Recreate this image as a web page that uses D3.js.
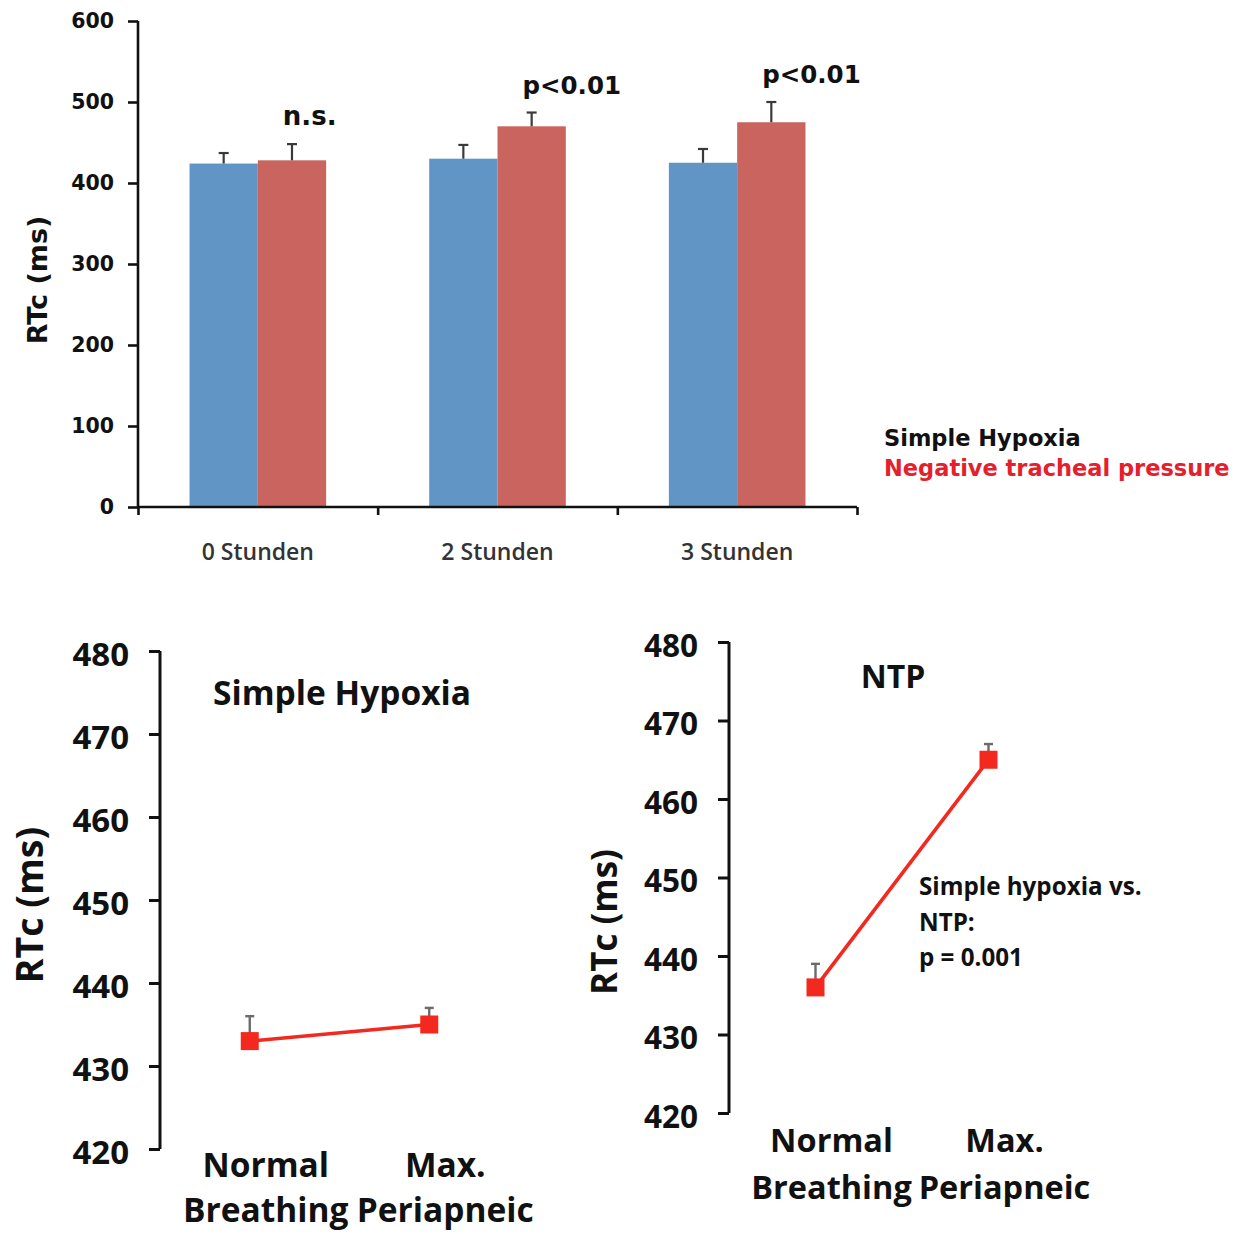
<!DOCTYPE html>
<html>
<head>
<meta charset="utf-8">
<script src="https://cdn.jsdelivr.net/npm/d3@7"></script>
<style>
  html, body { margin: 0; padding: 0; background: #fff; }
  svg { display: block; }
</style>
</head>
<body>
<svg id="fig" width="1243" height="1234"></svg>
<script>
// ---- RTc over time: simple hypoxia vs negative tracheal pressure ----
const timepoints = ["0 Stunden", "2 Stunden", "3 Stunden"];
const seriesNames = ["Simple Hypoxia", "Negative tracheal pressure"];
const hypoxiaMean = [424, 430, 425];
const hypoxiaErr = [13, 17, 17];
const ntpMean = [428, 470, 475];
const ntpErr = [20, 17, 25];
const significance = ["n.s.", "p<0.01", "p<0.01"];
const barTicks = [0, 100, 200, 300, 400, 500, 600];

// ---- RTc during normal breathing vs maximal periapneic phase ----
const phases = [["Normal", "Breathing"], ["Max.", "Periapneic"]];
const phaseKeys = ["Normal Breathing", "Max. Periapneic"];
const simpleHypoxiaMean = [433, 435];
const simpleHypoxiaErr = [3, 2];
const ntpPhaseMean = [436, 465];
const ntpPhaseErr = [3, 2];
const lineTicks = [420, 430, 440, 450, 460, 470, 480];
const comparisonNote = ["Simple hypoxia vs.", "NTP:", "p = 0.001"];

const BLUE = "#6195c6", RED_BAR = "#c9645e", RED = "#f3281e", LEGEND_RED = "#e5202d";
const svg = d3.select("#fig");

/* ===================== grouped bar chart ===================== */
{
  const left = 138, right = 857, top = 21, bottom = 507;
  const x0 = d3.scaleBand().domain(timepoints).range([left, right])
    .paddingInner(0.43).paddingOuter(0.215);
  const x1 = d3.scaleBand().domain(seriesNames).range([0, x0.bandwidth()]);
  const y = d3.scaleLinear().domain([0, 600]).range([bottom, top]);

  const rows = timepoints.map((t, i) => ({
    t, sig: significance[i],
    vals: [
      { s: seriesNames[0], m: hypoxiaMean[i], e: hypoxiaErr[i], c: BLUE },
      { s: seriesNames[1], m: ntpMean[i], e: ntpErr[i], c: RED_BAR }
    ]
  }));

  const g = svg.append("g");
  const grp = g.selectAll("g.grp").data(rows).join("g")
    .attr("transform", d => `translate(${x0(d.t)},0)`);

  grp.selectAll("rect").data(d => d.vals).join("rect")
    .attr("x", d => x1(d.s))
    .attr("y", d => y(d.m))
    .attr("width", x1.bandwidth())
    .attr("height", d => y(0) - y(d.m))
    .attr("fill", d => d.c);

  // error bars (upper half only)
  const eb = grp.selectAll("g.eb").data(d => d.vals).join("g")
    .attr("stroke", "#3a3a3a").attr("stroke-width", 2.2);
  eb.append("line")
    .attr("x1", d => x1(d.s) + x1.bandwidth() / 2)
    .attr("x2", d => x1(d.s) + x1.bandwidth() / 2)
    .attr("y1", d => y(d.m)).attr("y2", d => y(d.m + d.e));
  eb.append("line")
    .attr("x1", d => x1(d.s) + x1.bandwidth() / 2 - 5)
    .attr("x2", d => x1(d.s) + x1.bandwidth() / 2 + 5)
    .attr("y1", d => y(d.m + d.e)).attr("y2", d => y(d.m + d.e));

  // significance labels above the NTP bar
  grp.append("text")
    .attr("x", d => x1(seriesNames[1]) + 25)
    .attr("y", d => y(d.vals[1].m + d.vals[1].e) - 19)
    .attr("font-family", "DejaVu Sans").attr("font-weight", "bold")
    .attr("font-size", d => d.sig === "n.s." ? 26 : 24.5).attr("fill", "#111")
    .text(d => d.sig);

  // y axis
  const yAxis = g.append("g").attr("transform", `translate(${left},0)`)
    .call(d3.axisLeft(y).tickValues(barTicks).tickSize(10).tickPadding(14));
  yAxis.select(".domain").attr("stroke", "#111").attr("stroke-width", 2.6)
    .attr("d", `M0,${top}V${bottom}`);
  yAxis.selectAll(".tick line").attr("stroke", "#111").attr("stroke-width", 2.6);
  yAxis.selectAll(".tick text")
    .attr("font-family", "DejaVu Sans").attr("font-weight", "bold")
    .attr("font-size", 20.5).attr("fill", "#111");

  // x axis: category boundaries get the tick marks
  const xb = d3.scaleLinear().domain([0, timepoints.length]).range([left, right]);
  const xAxis = g.append("g").attr("transform", `translate(0,${bottom})`)
    .call(d3.axisBottom(xb).tickValues(d3.range(0, timepoints.length + 1)).tickSize(8).tickFormat(""));
  xAxis.select(".domain").attr("stroke", "#111").attr("stroke-width", 2.6)
    .attr("d", `M${left},0H${right}`);
  xAxis.selectAll(".tick line").attr("stroke", "#111").attr("stroke-width", 2.6);

  g.selectAll("text.cat").data(timepoints).join("text")
    .attr("class", "cat")
    .attr("x", d => x0(d) + x0.bandwidth() / 2)
    .attr("y", 560)
    .attr("text-anchor", "middle")
    .attr("font-family", "Open Sans").attr("font-weight", 600)
    .attr("font-size", 23).attr("fill", "#333")
    .text(d => d);

  g.append("text")
    .attr("transform", `translate(47,${(top + bottom) / 2 + 16}) rotate(-90)`)
    .attr("text-anchor", "middle")
    .attr("font-family", "DejaVu Sans").attr("font-weight", "bold")
    .attr("font-size", 27).attr("fill", "#111")
    .text("RTc (ms)");

  // legend
  const lg = g.append("g").attr("transform", "translate(884,0)")
    .attr("font-family", "DejaVu Sans").attr("font-weight", "bold").attr("font-size", 22.5);
  lg.append("text").attr("y", 446).attr("fill", "#111").text(seriesNames[0]);
  lg.append("text").attr("y", 476).attr("fill", LEGEND_RED).text(seriesNames[1]);
}

/* ===================== line panels ===================== */
function linePanel(opts) {
  const { axisX, yTop, yBottom, xEnd, means, errs, title, titleX, titleY, titleFont,
          yTitleX, yTitleY, tickFont, yTitleFont, labelY1, labelY2, labelFont } = opts;
  const g = svg.append("g");
  const x = d3.scalePoint().domain(phaseKeys).range([axisX, xEnd]).padding(0.5);
  const y = d3.scaleLinear().domain([420, 480]).range([yBottom, yTop]);
  const pts = phaseKeys.map((k, i) => ({ k, m: means[i], e: errs[i] }));

  const yAxis = g.append("g").attr("transform", `translate(${axisX},0)`)
    .call(d3.axisLeft(y).tickValues(lineTicks).tickSize(11).tickPadding(20));
  yAxis.select(".domain").attr("stroke", "#111").attr("stroke-width", 3)
    .attr("d", `M0,${yTop}V${yBottom}`);
  yAxis.selectAll(".tick line").attr("stroke", "#111").attr("stroke-width", 3);
  yAxis.selectAll(".tick text")
    .attr("font-family", "Open Sans").attr("font-weight", "bold")
    .attr("font-size", tickFont).attr("fill", "#111").attr("dy", "0.45em");

  // error whiskers
  const eb = g.selectAll("g.eb").data(pts).join("g")
    .attr("stroke", "#6b6b6b").attr("stroke-width", 2.4);
  eb.append("line")
    .attr("x1", d => x(d.k)).attr("x2", d => x(d.k))
    .attr("y1", d => y(d.m)).attr("y2", d => y(d.m + d.e));
  eb.append("line")
    .attr("x1", d => x(d.k) - 4.5).attr("x2", d => x(d.k) + 4.5)
    .attr("y1", d => y(d.m + d.e)).attr("y2", d => y(d.m + d.e));

  g.append("path").datum(pts)
    .attr("fill", "none").attr("stroke", RED).attr("stroke-width", 3.6)
    .attr("d", d3.line().x(d => x(d.k)).y(d => y(d.m)));

  g.selectAll("rect.mk").data(pts).join("rect")
    .attr("class", "mk")
    .attr("x", d => x(d.k) - 9).attr("y", d => y(d.m) - 9)
    .attr("width", 18).attr("height", 18).attr("fill", RED);

  // category labels (two lines each)
  const lab = g.selectAll("g.lab").data(phaseKeys).join("g")
    .attr("font-family", "Open Sans").attr("font-weight", "bold")
    .attr("font-size", labelFont).attr("fill", "#111").attr("text-anchor", "middle");
  lab.append("text").attr("x", (d, i) => x(d) + 16).attr("y", labelY1)
    .text((d, i) => phases[i][0]);
  lab.append("text").attr("x", (d, i) => x(d) + 16).attr("y", labelY2)
    .text((d, i) => phases[i][1]);

  g.append("text")
    .attr("x", titleX).attr("y", titleY).attr("text-anchor", "middle")
    .attr("font-family", "Open Sans").attr("font-weight", "bold")
    .attr("font-size", titleFont).attr("fill", "#111")
    .text(title);

  g.append("text")
    .attr("transform", `translate(${yTitleX},${yTitleY}) rotate(-90)`)
    .attr("text-anchor", "middle")
    .attr("font-family", "Open Sans").attr("font-weight", "bold")
    .attr("font-size", yTitleFont).attr("fill", "#111")
    .text("RTc (ms)");
  return g;
}

linePanel({
  axisX: 160, yTop: 651, yBottom: 1149, xEnd: 519,
  means: simpleHypoxiaMean, errs: simpleHypoxiaErr,
  title: "Simple Hypoxia", titleX: 342, titleY: 705, titleFont: 33.5,
  yTitleX: 43, yTitleY: 905, tickFont: 33, yTitleFont: 37.5,
  labelY1: 1177, labelY2: 1222, labelFont: 33.5
});

const ntpPanel = linePanel({
  axisX: 729, yTop: 642, yBottom: 1113, xEnd: 1075,
  means: ntpPhaseMean, errs: ntpPhaseErr,
  title: "NTP", titleX: 893, titleY: 688, titleFont: 32,
  yTitleX: 617, yTitleY: 922, tickFont: 31.5, yTitleFont: 35,
  labelY1: 1152, labelY2: 1199, labelFont: 32.5
});

ntpPanel.append("g")
  .attr("font-family", "Open Sans").attr("font-weight", "bold")
  .attr("font-size", 24.2).attr("fill", "#111")
  .selectAll("text").data(comparisonNote).join("text")
  .attr("x", 919).attr("y", (d, i) => 895 + i * 35.5)
  .text(d => d);
</script>
</body>
</html>
